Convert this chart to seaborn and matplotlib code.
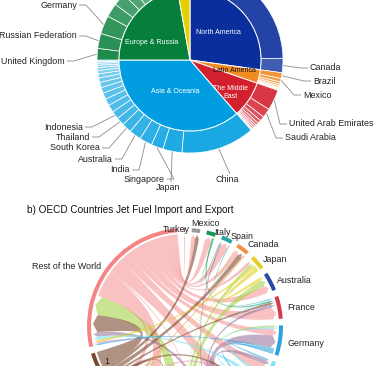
import numpy as np
import matplotlib
matplotlib.use("Agg")
import matplotlib.pyplot as plt
from matplotlib.path import Path
from matplotlib.patches import PathPatch, Wedge
from matplotlib.colors import to_rgb
import seaborn as sns

sns.set_theme(style="white")
plt.rcParams['font.family'] = ['Liberation Sans', 'DejaVu Sans']

# ---------------- panel a: sunburst data ----------------
regions = ["North America", "Latin America", "The Middle East",
           "Asia & Oceania", "Europe & Russia", "Africa"]
region_colors = ["#0a2f9c", "#f28a22", "#d3202e", "#009ee0", "#067f3a", "#e4cf00"]

na_names = ["United States", "Canada"]
na_vals = [24.7, 2.5]
la_names = ["Brazil", "Mexico", "", "", "", "", "", "", ""]
la_vals = [1.0, 0.6, 0.4, 0.3, 0.25, 0.2, 0.15, 0.1, 0.1]
me_names = ["United Arab Emirates", "Saudi Arabia", "", "", "", "", "", "", "", ""]
me_vals = [3.6, 1.6, 0.8, 0.6, 0.45, 0.35, 0.3, 0.25, 0.2, 0.15]
as_names = ["China", "Japan", "Singapore", "India", "Australia", "South Korea",
            "Thailand", "Indonesia"] + [""] * 13
as_vals = [12.8, 3.3, 2.1, 2.2, 2.1, 1.7, 1.4, 1.4, 1.3, 1.2, 1.1, 1.0, 0.9,
           0.8, 0.7, 0.6, 0.5, 0.4, 0.35, 0.3, 0.25]
eu_names = ["United Kingdom", "Russian Federation", "Germany"] + [""] * 11
eu_vals = [2.0, 2.6, 3.2, 2.4, 2.2, 1.8, 1.6, 1.4, 1.2, 1.0, 0.9, 0.8, 0.6, 0.5]
af_names = ["", "", "", ""]
af_vals = [1.2, 0.8, 0.5, 0.3]

# ---------------- panel b: chord data ----------------
groups = ["Turkey", "Mexico", "Italy", "Spain", "Canada", "Japan", "Australia",
          "France", "Germany", "Belgium", "Netherlands", "Korea",
          "United Kingdom", "United States", "Rest of the World"]
group_colors = ["#7a5a86", "#9a9a9a", "#1a9650", "#2aa3a8", "#f0904a", "#e5d020",
                "#2a48a8", "#d63c48", "#2aa4dc", "#7fe3f2", "#9a7aa0", "#a8d44a",
                "#e78ac3", "#7b4a2e", "#f58585"]
flow_from = ["Rest of the World"] * 14 + [
    "Korea", "United States", "Netherlands", "Belgium", "Japan", "Germany",
    "United States", "United States", "United States", "United States", "United States",
    "Korea", "Korea", "Korea", "Korea", "Korea",
    "Japan", "Japan", "Japan",
    "Netherlands", "Netherlands", "Netherlands", "Netherlands", "Netherlands",
    "Belgium", "Belgium", "Belgium", "Germany", "Germany",
    "Italy", "Italy", "Spain", "Canada",
    "United Kingdom", "United Kingdom", "United Kingdom"]
flow_to = ["Turkey", "Mexico", "Italy", "Spain", "Canada", "Japan", "Australia",
           "France", "Germany", "Belgium", "Netherlands", "United Kingdom", "Korea",
           "United States"] + [
    "Rest of the World"] * 6 + [
    "Mexico", "Canada", "Netherlands", "France", "United Kingdom",
    "Australia", "Japan", "United States", "Canada", "Germany",
    "Australia", "Korea", "United States",
    "Germany", "France", "United Kingdom", "Belgium", "Spain",
    "France", "Germany", "Netherlands", "Netherlands", "Belgium",
    "Spain", "France", "France", "United States",
    "Netherlands", "United States", "Rest of the World"]
flow_kt = [0.6, 2.5, 4, 4.5, 3, 2, 5, 7.5, 4, 6, 10, 12, 1, 4,
           12, 11, 3, 2, 1.5, 1,
           2.5, 3, 2, 1.5, 2,
           4, 2, 1.5, 0.5, 1,
           2, 0.5, 0.5,
           8, 2, 2, 3, 1,
           1, 1.5, 2, 1.5, 1,
           0.5, 1, 0.5, 1,
           2, 1, 1]

title_b = "b) OECD Countries Jet Fuel Import and Export"

# ---------------- figure ----------------
W, H = 375, 366
fig = plt.figure(figsize=(W / 100, H / 100), dpi=100)
ax = fig.add_axes([0, 0, 1, 1])
TXT = "#222222"
FS = 6.4


def mix(c, t):
    r = np.array(to_rgb(c))
    return tuple(r + (1 - r) * t)


def py(y):  # image-from-top to axis coordinate
    return H - y


# ---- sunburst ----
PC = (190, py(60))
R_OUT, R_IN = 93, 71
sub_vals = [na_vals, la_vals, me_vals, as_vals, eu_vals, af_vals]
sub_names = [na_names, la_names, me_names, as_names, eu_names, af_names]
region_tot = [sum(v) for v in sub_vals]

outer_vals, outer_cols, outer_names = [], [], []
for base, vals, names in zip(region_colors, sub_vals, sub_names):
    n = len(vals)
    pal = sns.blend_palette([mix(base, 0.10), mix(base, 0.62)], n_colors=max(n, 2))
    if n == 2:
        pal = [mix(base, 0.10), mix(base, 0.22)]
    outer_vals += vals
    outer_cols += list(pal)[:n]
    outer_names += names

ax.pie(outer_vals, colors=outer_cols, radius=R_OUT, center=PC, startangle=90,
       counterclock=False, frame=True,
       wedgeprops=dict(width=R_OUT - R_IN, edgecolor="white", linewidth=0.5))
ax.pie(region_tot, colors=region_colors, radius=R_IN, center=PC, startangle=90,
       counterclock=False, frame=True,
       wedgeprops=dict(edgecolor="white", linewidth=0.7))

# inner labels (layout: radius, angle offset)
tot = sum(region_tot)
cum = 0
inner_layout = {"North America": (39, 3, "white"), "Latin America": (46, 0, "#111111"),
                "The Middle East": (52, -5, "white"), "Asia & Oceania": (35, 0, "white"),
                "Europe & Russia": (42, 15, "white"), "Africa": (0, 0, None)}
for name, v in zip(regions, region_tot):
    a_mid = 90 - (cum + v / 2) / tot * 360
    cum += v
    r, da, col = inner_layout[name]
    if col is None:
        continue
    a = np.deg2rad(a_mid + da)
    lab = "The Middle\nEast" if name == "The Middle East" else name
    ax.text(PC[0] + r * np.cos(a), PC[1] + r * np.sin(a), lab, color=col,
            fontsize=5.0, ha="center", va="center", linespacing=1.15)

# outer labels with leaders (layout positions in image px)
lab_layout = {
    "Germany": (77, 5, "right"), "Russian Federation": (77, 36, "right"),
    "United Kingdom": (65, 61, "right"), "Indonesia": (83, 127, "right"),
    "Thailand": (90, 137, "right"), "South Korea": (100, 148, "right"),
    "Australia": (113, 159, "right"), "India": (130, 170, "right"),
    "Singapore": (165, 179, "right"), "Japan": (168, 188, "below"),
    "China": (227, 180, "below"), "Canada": (310, 68, "left"),
    "Brazil": (313, 81, "left"), "Mexico": (303, 95, "left"),
    "United Arab Emirates": (289, 124, "left"), "Saudi Arabia": (285, 138, "left"),
}
tot_o = sum(outer_vals)
cum = 0
for name, v in zip(outer_names, outer_vals):
    a_mid = np.deg2rad(90 - (cum + v / 2) / tot_o * 360)
    cum += v
    if name not in lab_layout:
        continue
    lx, ly, mode = lab_layout[name]
    ly = py(ly)
    rp = (PC[0] + (R_OUT + 0.5) * np.cos(a_mid), PC[1] + (R_OUT + 0.5) * np.sin(a_mid))
    if mode == "right":
        xs = [lx + 2, lx + 9, rp[0]]
        ys = [ly, ly, rp[1]]
        ax.text(lx, ly, name, ha="right", va="center", fontsize=FS, color=TXT)
    elif mode == "left":
        xs = [rp[0], lx - 9, lx - 2]
        ys = [rp[1], ly, ly]
        ax.text(lx, ly, name, ha="left", va="center", fontsize=FS, color=TXT)
    else:
        xs = [rp[0], lx + 3]
        ys = [rp[1], ly + 6]
        ax.text(lx, ly, name, ha="center", va="center", fontsize=FS, color=TXT)
    ax.plot(xs, ys, color="#8a8a8a", lw=0.6, solid_capstyle="butt")

# ---- chord diagram ----
ax.text(27, py(210), title_b, fontsize=7.2, color="#111111", ha="left", va="center")

CC = (185, py(326))
R_A1, R_A0 = 98, 94
R_L = 92
GAP = 4.0
START = 90.6
n = len(groups)
gi = {g: i for i, g in enumerate(groups)}
src = [gi[s] for s in flow_from]
dst = [gi[d] for d in flow_to]
gtot = np.zeros(n)
for s, d, v in zip(src, dst, flow_kt):
    gtot[s] += v
    gtot[d] += v
scale = (360 - n * GAP) / gtot.sum()

g_start, g_end = np.zeros(n), np.zeros(n)
cur = START
for i in range(n):
    g_start[i] = cur
    g_end[i] = cur - gtot[i] * scale
    cur = g_end[i] - GAP

# sub-arc allocation: incoming first (small to large), then outgoing by partner
ends = {}
for i in range(n):
    items = []
    for k, (s, d) in enumerate(zip(src, dst)):
        if d == i:
            items.append((0, flow_kt[k], k, "in"))
        if s == i:
            items.append((1, -((d - i) % n), k, "out"))
    items.sort()
    c = g_start[i]
    for _, _, k, role in items:
        w = flow_kt[k] * scale
        ends[(k, role)] = (c, c - w)
        c -= w


def pt(r, a):
    a = np.deg2rad(a)
    return (CC[0] + r * np.cos(a), CC[1] + r * np.sin(a))


def arc(r, a1, a2, m=16):
    return [pt(r, a) for a in np.linspace(a1, a2, m)]


order = np.argsort(flow_kt)[::-1]
for k in order:
    s1, s2 = ends[(k, "out")]
    t1, t2 = ends[(k, "in")]
    verts, codes = [], []
    a = arc(R_L, s1, s2)
    verts += a
    codes += [Path.MOVETO] + [Path.LINETO] * (len(a) - 1)
    verts += [CC, pt(R_L - 4, t1)]
    codes += [Path.CURVE3, Path.CURVE3]
    verts += [pt(R_L, (t1 + t2) / 2), pt(R_L - 4, t2)]
    codes += [Path.LINETO, Path.LINETO]
    verts += [CC, pt(R_L, s1)]
    codes += [Path.CURVE3, Path.CURVE3]
    col = group_colors[src[k]]
    alpha = 0.5 if src[k] == gi["Rest of the World"] else 0.6
    ax.add_patch(PathPatch(Path(verts, codes), facecolor=col, edgecolor="none",
                           alpha=alpha, zorder=2))

# label nudges (layout only): dx, dy in px
label_nudge = {"Turkey": (5, -5), "Mexico": (-6, 1), "Italy": (1, -5), "Spain": (0, -2)}
for i in range(n):
    ax.add_patch(Wedge(CC, R_A1, g_end[i], g_start[i], width=R_A1 - R_A0,
                       facecolor=group_colors[i], edgecolor="none", zorder=3))
    mid = (g_start[i] + g_end[i]) / 2
    x, y = pt(104, mid)
    dx, dy = label_nudge.get(groups[i], (0, 0))
    x, y = x + dx, y - 2 + dy
    if y < 6:          # label falls outside the cropped figure
        continue
    ha = "left" if np.cos(np.deg2rad(mid)) > 0 else "right"
    if groups[i] == "Turkey":
        ha = "right"
    ax.text(x, y, groups[i], ha=ha, va="center", fontsize=FS, color=TXT, zorder=4)

ax.text(107, py(361), "1", ha="center", va="center", fontsize=FS, color=TXT)

ax.set_xlim(0, W)
ax.set_ylim(0, H)
ax.set_aspect("auto")
ax.axis("off")
fig.savefig("out.png", dpi=100)
